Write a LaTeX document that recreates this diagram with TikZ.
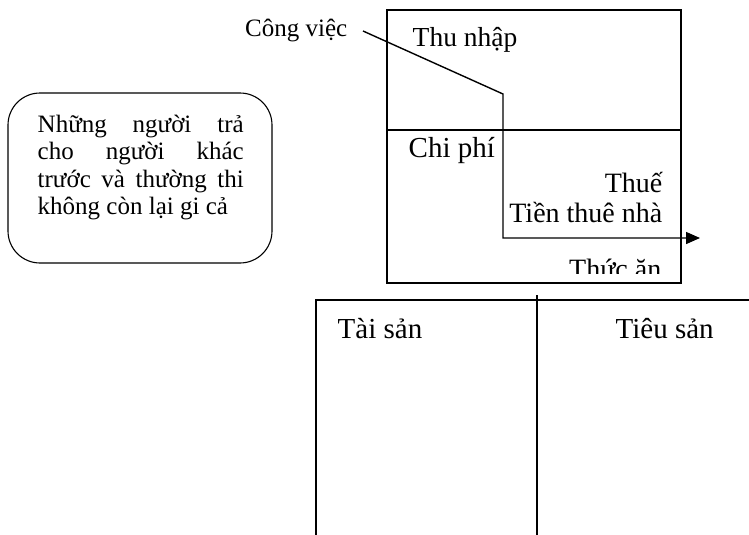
\documentclass[tikz,border=0pt]{standalone}
\usepackage{fontspec}
\setmainfont{Liberation Serif}
\usetikzlibrary{arrows.meta,positioning}

\begin{document}
\begin{tikzpicture}[x=1pt,y=-1pt,line width=1.4pt,>={Triangle[length=14pt,width=12pt]},
                    label text/.style={inner sep=0pt,font=\fontsize{28}{32}\selectfont},
                    big text/.style={inner sep=0pt,font=\fontsize{29}{34}\selectfont}]
  \useasboundingbox (0,0) rectangle (749,535);

  \node[draw,rounded corners=32pt,minimum width=264pt,minimum height=170pt,line width=1.1pt] (note) at (140,178) {};
  \node[anchor=north west,inner sep=0pt,text width=206pt,align=justify,
        font=\fontsize{25}{27.5}\selectfont] (notetext) at (37,114)
    {Những người trả\linebreak cho người khác\linebreak trước và thường thi\linebreak không còn lại gi cả};

  \coordinate (ne) at (681,10);
  \coordinate (sw) at (387,283);
  \draw (sw) rectangle (ne);
  \draw (387,130) -- (681,130);

  \node[label text,anchor=base west,font=\fontsize{27.5}{32}\selectfont] (income) at (412,47) {Thu nhập};
  \node[label text,anchor=base west,font=\fontsize{29}{32}\selectfont] (expense) at (408,157) {Chi phí};
  \node[label text,anchor=base east] (tax) at (663,192) {Thuế};
  \node[label text,anchor=base east] (rent) at (663,222) {Tiền thuê nhà};
  \begin{scope}
    \clip (388,250) rectangle (680,273);
    \node[label text,anchor=base east] (food) at (662,278) {Thức ăn};
  \end{scope}

  \node[label text,anchor=east,inner xsep=15pt,font=\fontsize{25}{28}\selectfont] (job) at (363,31) {Công việc};
  \coordinate (bend) at (503,94);
  \coordinate (turn) at (503,238);
  \coordinate (tip) at (700,238);
  \draw[->] (job.east) -- (bend) -- (turn) -- (tip);

  \draw (316,535) -- (316,300) -- (749,300);
  \draw (537,295) -- (537,535);
  \node[big text,anchor=base west] (assets) at (337,338) {Tài sản};
  \node[big text,anchor=base west] (liabilities) at (615,338) {Tiêu sản};
\end{tikzpicture}
\end{document}
